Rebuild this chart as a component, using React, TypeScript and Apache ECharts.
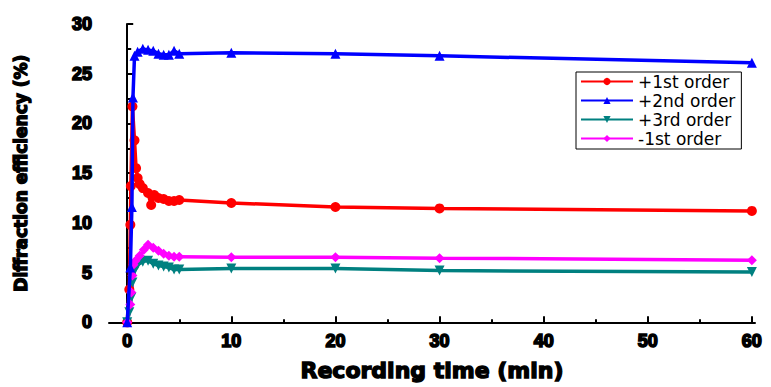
import React, { useEffect, useRef } from "react";
import * as echarts from "echarts";

const seriesNames = ["+1st order", "+2nd order", "+3rd order", "-1st order"];

const order1Pos: [number, number][] = [
  [0, 0], [0.2, 3.3], [0.3, 9.8], [0.35, 13.7], [0.5, 21.7], [0.7, 18.3], [0.85, 15.5],
  [1.0, 14.5], [1.2, 13.9], [1.5, 13.5], [2.0, 13.0], [2.3, 11.8], [2.6, 12.8], [3.0, 12.5],
  [3.5, 12.4], [4.0, 12.2], [4.5, 12.2], [5.0, 12.3], [10, 12.0], [20, 11.6], [30, 11.45], [60, 11.2],
];
const order2Pos: [number, number][] = [
  [0, 0], [0.3, 5.5], [0.45, 11.6], [0.55, 22.6], [0.7, 26.8], [1.0, 27.2], [1.5, 27.5],
  [2.0, 27.4], [2.5, 27.3], [3.0, 27.0], [3.5, 26.9], [4.0, 26.9], [4.5, 27.3], [5.0, 27.0],
  [10, 27.1], [20, 27.0], [30, 26.8], [60, 26.1],
];
const order3Pos: [number, number][] = [
  [0, 0], [0.2, 1.0], [0.4, 2.5], [0.5, 4.0], [0.7, 5.2], [1.0, 5.8], [1.5, 6.1], [2.0, 6.2],
  [2.5, 5.9], [3.0, 5.7], [3.5, 5.6], [4.0, 5.5], [4.5, 5.3], [5.0, 5.3], [10, 5.4], [20, 5.4],
  [30, 5.2], [60, 5.05],
];
const order1Neg: [number, number][] = [
  [0, 0], [0.3, 1.8], [0.4, 3.0], [0.5, 4.7], [0.6, 5.8], [0.8, 6.2], [1.2, 6.7], [1.6, 7.3],
  [2.0, 7.8], [2.5, 7.5], [3.0, 7.2], [3.5, 6.9], [4.0, 6.7], [4.5, 6.6], [5.0, 6.6], [10, 6.55],
  [20, 6.55], [30, 6.45], [60, 6.25],
];

const xMajorTicks = [0, 10, 20, 30, 40, 50, 60];
const xMinorTicks = [5, 15, 25, 35, 45, 55];

const colors = ["#ff0000", "#0000ff", "#008080", "#ff00ff"];
const symbols = ["circle", "triangle", "path://M0,0 L10,0 L5,10 Z", "diamond"];

export default function App() {
  const ref = useRef<HTMLDivElement>(null);
  useEffect(() => {
    if (!ref.current) return;
    const chart = echarts.init(ref.current, undefined, { renderer: "svg" });
    const heavy = {
      color: "#000",
      fontFamily: "Liberation Sans, Arial, sans-serif",
      fontWeight: "bold" as const,
      textBorderColor: "#000",
      textBorderWidth: 1.6,
    };
    const title = {
      color: "#000",
      fontFamily: "DejaVu Sans, sans-serif",
      fontWeight: "bold" as const,
      textBorderColor: "#000",
      textBorderWidth: 1.4,
    };
    const data = [order1Pos, order2Pos, order3Pos, order1Neg];
    chart.setOption({
      animation: false,
      backgroundColor: "#fff",
      grid: { left: 109, right: 16, top: 24, bottom: 55, containLabel: false },
      legend: {
        orient: "vertical",
        left: 576,
        top: 72,
        itemWidth: 52,
        itemHeight: 9,
        itemGap: 2,
        padding: [1, 6, 2, 4],
        borderColor: "#000",
        borderWidth: 1,
        textStyle: {
          fontSize: 17,
          lineHeight: 16,
          fontFamily: "DejaVu Sans, sans-serif",
          color: "#000",
        },
        data: seriesNames,
      },
      xAxis: [
        {
          type: "value",
          min: -1.75,
          max: 60.3,
          name: "Recording time (min)",
          nameLocation: "middle",
          nameGap: 37,
          nameTextStyle: { ...title, fontSize: 22 },
          axisLine: { lineStyle: { color: "#000", width: 2 } },
          axisTick: { inside: true, length: 6, lineStyle: { color: "#000", width: 2 }, customValues: xMajorTicks },
          axisLabel: { ...heavy, fontSize: 18, margin: 10, customValues: xMajorTicks },
          splitLine: { show: false },
        },
        {
          type: "value",
          min: -1.75,
          max: 60.3,
          position: "bottom",
          axisLine: { show: false },
          axisTick: { inside: true, length: 3, lineStyle: { color: "#000", width: 2 }, customValues: xMinorTicks },
          axisLabel: { show: false },
          splitLine: { show: false },
        },
      ],
      yAxis: {
        type: "value",
        min: 0,
        max: 30,
        interval: 5,
        name: "Diffraction efficiency (%)",
        nameLocation: "middle",
        nameGap: 80,
        nameTextStyle: { ...title, fontSize: 17 },
        axisLine: { lineStyle: { color: "#000", width: 2 } },
        axisTick: { inside: true, length: 6, lineStyle: { color: "#000", width: 2 } },
        minorTick: { show: true, splitNumber: 2, length: 4, lineStyle: { color: "#000", width: 2 } },
        axisLabel: { ...heavy, fontSize: 18, margin: 17 },
        splitLine: { show: false },
      },
      series: data.map((d, i) => ({
        name: seriesNames[i],
        type: "line",
        data: d,
        xAxisIndex: 0,
        symbol: symbols[i],
        symbolSize: 10,
        showAllSymbol: true,
        lineStyle: { color: colors[i], width: 3.5 },
        itemStyle: { color: colors[i] },
        z: i === 1 ? 3 : 2,
      })),
    });
    return () => chart.dispose();
  }, []);
  return (
    <div
      ref={ref}
      style={{ position: "fixed", left: 0, top: 0, width: 771, height: 387 }}
    />
  );
}
